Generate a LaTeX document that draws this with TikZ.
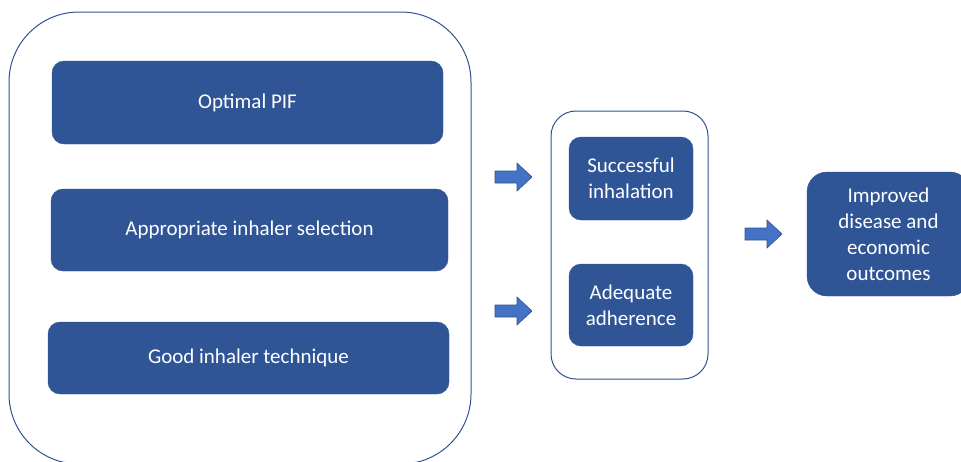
\documentclass[tikz,border=0pt]{standalone}
\usepackage{fontspec}
\setmainfont{Carlito}
\definecolor{boxblue}{HTML}{2F5597}
\definecolor{edgeblue}{HTML}{2F528F}
\definecolor{arrowblue}{HTML}{4472C4}
\tikzset{
	bluebox/.style={draw=edgeblue, fill=boxblue, text=white, rounded corners=12pt,
		align=center, inner sep=0pt, font=\fontsize{21}{26}\selectfont},
	frame/.style={draw=edgeblue, line width=1pt},
	blockarrow/.style={draw=edgeblue, fill=arrowblue, line width=0.6pt}
}
\begin{document}
\begin{tikzpicture}[x=1pt, y=-1pt]
			\useasboundingbox (0, 0) rectangle (961, 461);

			\draw [frame, rounded corners=70pt] (9, 12) rectangle (471, 464);
			\draw [frame, rounded corners=25pt] (551, 111) rectangle (708, 379);

			\node [bluebox, minimum width=391pt, minimum height=83pt] (pif) at (247.5, 102.5) {Optimal PIF};
			\node [bluebox, minimum width=397pt, minimum height=82pt] (selection) at (249.5, 230) {Appropriate inhaler selection};
			\node [bluebox, minimum width=401pt, minimum height=72pt] (technique) at (248.5, 358) {Good inhaler technique};

			\node [bluebox, minimum width=124pt, minimum height=83pt] (inhalation) at (631, 178.5) {Successful\\inhalation};
			\node [bluebox, minimum width=124pt, minimum height=82pt] (adherence) at (631, 305) {Adequate\\adherence};

			\node [bluebox, rounded corners=20pt, minimum width=163pt, minimum height=124pt] (outcomes) at (888.5, 234) {Improved\\disease and\\economic\\outcomes};

			\foreach \x/\y in {495/177, 495/311, 745/234}
				\filldraw [blockarrow] (\x, \y) ++(0, -6) -- ++(22, 0) -- ++(0, -8) -- ++(15, 14)
					-- ++(-15, 14) -- ++(0, -8) -- ++(-22, 0) -- cycle;
		\end{tikzpicture}
\end{document}
